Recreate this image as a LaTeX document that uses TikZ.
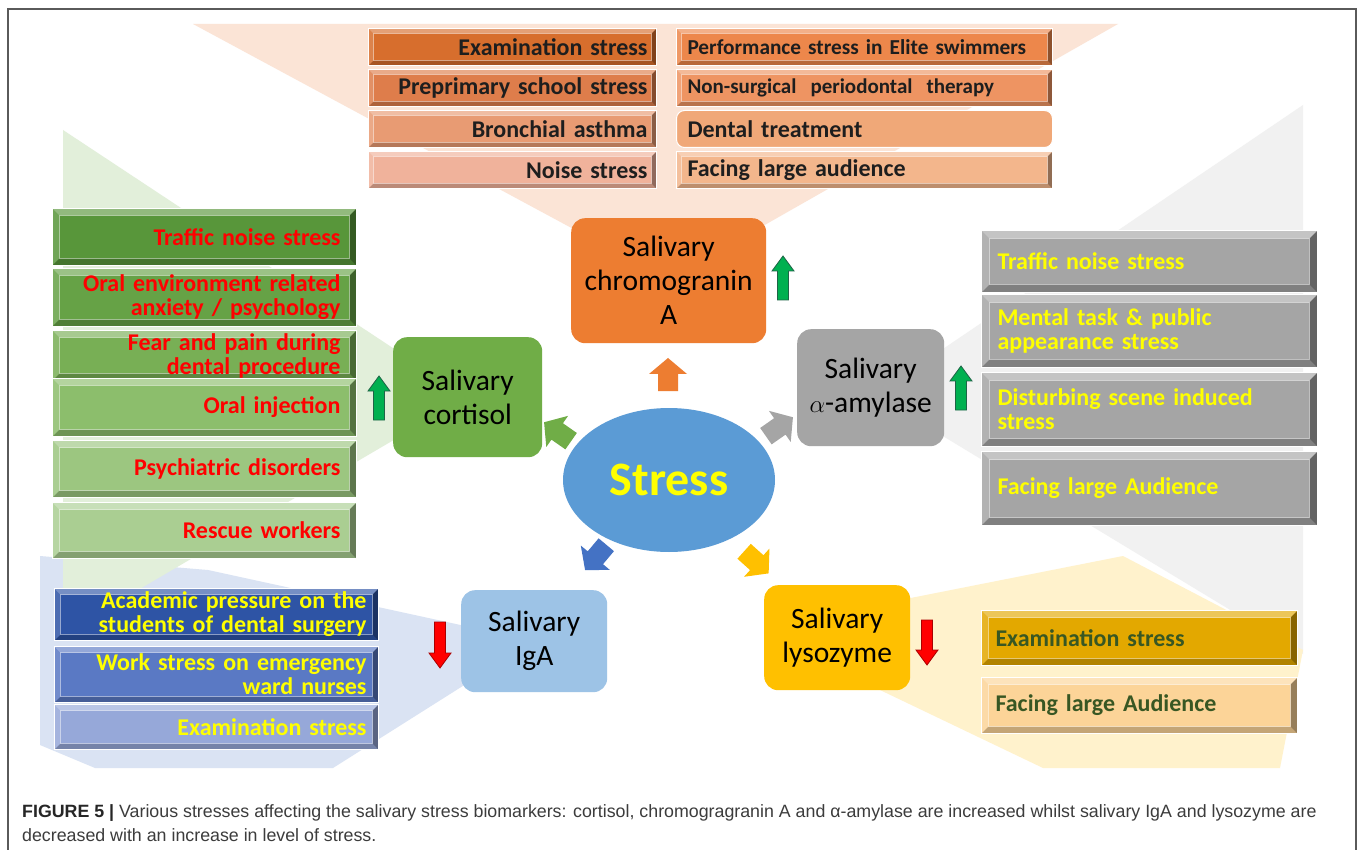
\documentclass[tikz,border=0pt]{standalone}
\usepackage{fontspec}
\setmainfont{Carlito}
\newfontfamily\capfont{Liberation Sans}
\definecolor{fanor}{RGB}{251,228,214}
\definecolor{fangr}{RGB}{226,239,218}
\definecolor{fangy}{RGB}{241,241,241}
\definecolor{fanbl}{RGB}{218,227,243}
\definecolor{fanye}{RGB}{255,242,204}
\definecolor{cOr}{RGB}{237,125,49}
\definecolor{cGr}{RGB}{112,173,71}
\definecolor{cGy}{RGB}{165,165,165}
\definecolor{cBl}{RGB}{157,195,230}
\definecolor{cYe}{RGB}{255,192,0}
\definecolor{cSt}{RGB}{91,155,213}
\definecolor{cArrBl}{RGB}{68,114,196}
\definecolor{L1}{RGB}{215,110,45}
\definecolor{L2}{RGB}{222,125,75}
\definecolor{L3}{RGB}{232,155,115}
\definecolor{L4}{RGB}{240,178,155}
\definecolor{R1}{RGB}{237,135,75}
\definecolor{R2}{RGB}{238,148,98}
\definecolor{R3}{RGB}{240,168,120}
\definecolor{R4}{RGB}{243,182,140}
\definecolor{G1}{RGB}{88,150,58}
\definecolor{G2}{RGB}{102,162,70}
\definecolor{G3}{RGB}{120,175,85}
\definecolor{G4}{RGB}{140,190,108}
\definecolor{G5}{RGB}{156,198,128}
\definecolor{G6}{RGB}{170,206,146}
\definecolor{B1}{RGB}{46,84,165}
\definecolor{B2}{RGB}{90,121,196}
\definecolor{B3}{RGB}{150,168,217}
\definecolor{Y1}{RGB}{227,168,0}
\definecolor{Y2}{RGB}{252,212,152}
\definecolor{txtdark}{RGB}{30,30,30}
\definecolor{pureyel}{RGB}{255,255,0}
\definecolor{purered}{RGB}{255,0,0}
\definecolor{dkgreen}{RGB}{56,87,35}
\definecolor{arrgreen}{RGB}{0,176,80}
\definecolor{arrgreenline}{RGB}{30,100,70}
\definecolor{arrredline}{RGB}{170,0,0}
\definecolor{framegray}{RGB}{90,90,90}
\definecolor{capgray}{RGB}{60,60,60}
\tikzset{
  bevel/.style={path picture={
    \path (path picture bounding box.north west) coordinate (pnw)
          (path picture bounding box.north east) coordinate (pne)
          (path picture bounding box.south west) coordinate (psw)
          (path picture bounding box.south east) coordinate (pse);
    \fill[white,opacity=.35] (pnw) -- (pne) -- ([xshift=-#1,yshift=-#1]pne) -- ([xshift=#1,yshift=-#1]pnw) -- cycle;
    \fill[white,opacity=.15] (pnw) -- ([xshift=#1,yshift=-#1]pnw) -- ([xshift=#1,yshift=#1]psw) -- (psw) -- cycle;
    \fill[black,opacity=.40] (pne) -- (pse) -- ([xshift=-#1,yshift=#1]pse) -- ([xshift=-#1,yshift=-#1]pne) -- cycle;
    \fill[black,opacity=.22] (psw) -- ([xshift=#1,yshift=#1]psw) -- ([xshift=-#1,yshift=#1]pse) -- (pse) -- cycle;
    \draw[white,opacity=.45,line width=1.2pt] ([xshift=#1,yshift=-#1]pnw) rectangle ([xshift=-#1,yshift=#1]pse);
  }},
  listbox/.style={anchor=north west, inner ysep=0pt, draw=white, line width=1pt},
  topL/.style={listbox, bevel=5pt, inner xsep=9pt, text width=270pt, align=right, text=txtdark, font=\bfseries\fontsize{24}{24}\selectfont},
  topR/.style={listbox, bevel=5pt, inner xsep=11pt, text width=354pt, align=left, text=txtdark, font=\bfseries\fontsize{24}{24}\selectfont},
  grbox/.style={listbox, bevel=7pt, inner xsep=16pt, text width=272pt, align=right, text=purered, font=\bfseries\fontsize{24}{24}\selectfont},
  gybox/.style={listbox, bevel=8pt, inner xsep=16pt, text width=304pt, align=left, text=pureyel, font=\bfseries\fontsize{24}{24}\selectfont},
  blbox/.style={listbox, bevel=6pt, inner xsep=12pt, text width=300pt, align=right, text=pureyel, font=\bfseries\fontsize{24}{24}\selectfont},
  yebox/.style={listbox, bevel=7pt, inner xsep=14pt, text width=288pt, align=left, text=dkgreen, font=\bfseries\fontsize{24}{24}\selectfont},
  marker/.style={anchor=north west, rounded corners=14pt, inner sep=0pt, align=center, text=black, font=\fontsize{29.5}{34}\selectfont},
  captext/.style={anchor=base west, inner sep=0pt, text=capgray, font=\capfont\fontsize{17.8}{24}\selectfont},
}
\newcommand{\blockarr}[4]{%
  \fill[#4, shift={(#1,#2)}, rotate=#3] (-16,-10) -- (1,-10) -- (1,-19) -- (17,0) -- (1,19) -- (1,10) -- (-16,10) -- cycle;}
\newcommand{\uparr}[5]{% x, top, bottom, fill, line
  \filldraw[fill=#4, draw=#5, line width=0.8pt] (#1,#2) -- ({#1+11},{#2+15}) -- ({#1+5.5},{#2+15}) -- ({#1+5.5},#3) -- ({#1-5.5},#3) -- ({#1-5.5},{#2+15}) -- ({#1-11},{#2+15}) -- cycle;}
\newcommand{\downarr}[5]{% x, top, bottom, fill, line
  \filldraw[fill=#4, draw=#5, line width=0.8pt] (#1,#3) -- ({#1+11},{#3-15}) -- ({#1+5.5},{#3-15}) -- ({#1+5.5},#2) -- ({#1-5.5},#2) -- ({#1-5.5},{#3-15}) -- ({#1-11},{#3-15}) -- cycle;}
\begin{document}
\begin{tikzpicture}[x=1pt,y=-1pt]
\useasboundingbox (0,0) rectangle (1358,850);
\fill[white] (0,0) rectangle (1358,850);
% frame
\draw[framegray, line width=1.5pt] (8,852) -- (8,9) -- (1356,9) -- (1356,852);
% background fans
\fill[fangy] (875,395) -- (1303,105) -- (1303,654) -- cycle;
\fill[fanye] (850,610) -- (1123,556) -- (1303,650) -- (1280,768) -- (1043,768) -- (880,690) -- cycle;
\fill[fanbl] (534,641) -- (208,570) -- (40,556) -- (40,745) -- (95,768) -- (333,768) -- cycle;
\fill[fangr] (63,130) -- (467,397) -- (63,634) -- cycle;
\fill[fanor] (193,24) -- (1118,24) -- (668,280) -- cycle;

% top lists
\node[topL, fill=L1, minimum height=37pt] (t1) at (368,28) {Examination stress};
\node[topL, fill=L2, minimum height=37pt] (t2) at (368,69) {Preprimary school stress};
\node[topL, fill=L3, minimum height=37pt] (t3) at (368,110) {Bronchial asthma};
\node[topL, fill=L4, minimum height=37pt] (t4) at (368,151) {Noise stress};
\node[topR, fill=R1, minimum height=37pt, font=\bfseries\fontsize{21.3}{22}\selectfont] (u1) at (676,28) {Performance stress in Elite swimmers};
\node[topR, fill=R2, minimum height=37pt, font=\bfseries\fontsize{21}{21}\selectfont] (u2) at (676,69) {Non-surgical\ \ periodontal\ \ therapy};
\node[anchor=north west, inner ysep=0pt, inner xsep=11pt, text width=354pt, align=left, minimum height=37pt, rounded corners=8pt, fill=R3, draw=white, line width=1pt, text=txtdark, font=\bfseries\fontsize{24}{24}\selectfont] (u3) at (676,110) {Dental treatment};
\node[topR, fill=R4, minimum height=37pt] (u4) at (676,151) {Facing large audience};

% cortisol list
\node[grbox, fill=G1, minimum height=57pt] (g1) at (52,208) {Traffic noise stress};
\node[grbox, fill=G2, minimum height=58pt] (g2) at (52,268) {Oral environment related\\anxiety / psychology};
\node[grbox, fill=G3, minimum height=50pt] (g3) at (52,330) {Fear and pain during\\dental procedure};
\node[grbox, fill=G4, minimum height=58pt] (g4) at (52,378) {Oral injection};
\node[grbox, fill=G5, minimum height=57pt] (g5) at (52,440) {Psychiatric disorders};
\node[grbox, fill=G6, minimum height=56pt] (g6) at (52,502) {Rescue workers};

% amylase list
\node[gybox, fill=cGy, minimum height=62pt] (a1) at (981,230) {Traffic noise stress};
\node[gybox, fill=cGy, minimum height=73pt] (a2) at (981,294) {Mental task \& public\\appearance stress};
\node[gybox, fill=cGy, minimum height=74pt] (a3) at (981,372) {Disturbing scene induced\\stress};
\node[gybox, fill=cGy, minimum height=74pt] (a4) at (981,451) {Facing large Audience};

% IgA list
\node[blbox, fill=B1, minimum height=52pt] (b1) at (54,588) {Academic pressure on the\\students of dental surgery};
\node[blbox, fill=B2, minimum height=56pt] (b2) at (54,646) {Work stress on emergency\\ward nurses};
\node[blbox, fill=B3, minimum height=45pt] (b3) at (54,704) {Examination stress};

% lysozyme list
\node[yebox, fill=Y1, minimum height=55pt] (y1) at (981,610) {Examination stress};
\node[yebox, fill=Y2, minimum height=56pt] (y2) at (981,677) {Facing large Audience};

% biomarker boxes
\node[marker, fill=cOr, minimum width=195pt, minimum height=125pt] (chromo) at (571,218) {Salivary\\chromogranin\\A};
\node[marker, fill=cGr, minimum width=149pt, minimum height=120pt] (cort) at (393,337) {Salivary\\cortisol};
\node[marker, fill=cGy, minimum width=147pt, minimum height=117pt] (amyl) at (797,329) {Salivary\\$\alpha$-amylase};
\node[marker, fill=cBl, minimum width=146pt, minimum height=102pt] (iga) at (461,590) {Salivary\\IgA};
\node[marker, fill=cYe, minimum width=146pt, minimum height=105pt] (lyso) at (764,585) {Salivary\\lysozyme};

% stress ellipse
\fill[cSt] (669,480) ellipse [x radius=106, y radius=72];
\node[text=pureyel, font=\bfseries\fontsize{48}{48}\selectfont] (stress) at (669,480) {Stress};

% block arrows from stress
\blockarr{668}{375}{90}{cOr}
\blockarr{558}{432}{145}{cGr}
\blockarr{779}{427}{35}{cGy}
\blockarr{596}{557}{230}{cArrBl}
\blockarr{756}{562}{-42}{cYe}

% trend arrows
\uparr{783}{256}{300}{arrgreen}{arrgreenline}
\uparr{379}{376}{420}{arrgreen}{arrgreenline}
\uparr{961}{366}{410}{arrgreen}{arrgreenline}
\downarr{440}{622}{668}{purered}{arrredline}
\downarr{927}{620}{665}{purered}{arrredline}

% caption
\node[captext] (cap1) at (22,817) {\textbf{\color{black!85}FIGURE 5 |} Various stresses affecting the salivary stress biomarkers: cortisol, chromogragranin A and α-amylase are increased whilst salivary IgA and lysozyme are};
\node[captext] (cap2) at (22,841) {decreased with an increase in level of stress.};
\end{tikzpicture}
\end{document}
